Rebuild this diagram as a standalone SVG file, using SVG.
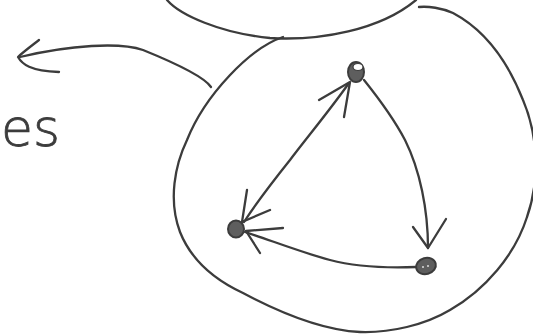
<svg xmlns="http://www.w3.org/2000/svg" width="533" height="335" viewBox="0 0 533 335">
<style>
.s{fill:none;stroke:#3c3c3c;stroke-width:2.3;stroke-linecap:round;stroke-linejoin:round}
.n{fill:#5e5e5e;stroke:#3c3c3c;stroke-width:2}
.t{font-family:"DejaVu Sans","Liberation Sans",sans-serif;font-weight:200;font-size:52px;fill:#3c3c3c;stroke:#3c3c3c;stroke-width:0.8}
</style>
<rect width="533" height="335" fill="#fff"/>
<g id="shapes">
<path class="s" d="M167,0 C180,15 220,33 270,38 C320,41 380,30 416,0"/>
<path class="s" d="M283,37 C250,48 205,95 187,140 C175,165 168,200 180,232 C192,262 215,280 243,293 C275,310 320,330 360,332 C390,333 425,325 450,310 C485,290 515,255 527,217 C540,180 538,135 523,100 C508,62 485,30 453,13 C442,8 428,6 419,7"/>
</g>
<g id="label">
<text class="t" x="1" y="146">es</text>
</g>
<g id="connectors">
<path class="s" d="M211,87 C205,78 180,65 143,50 C120,42 70,45 20,57"/>
<path class="s" d="M39,40 C30,47 22,53 18,57 C22,64 30,71 59,72"/>
<path class="s" d="M349,83 C330,110 305,140 290,160 C270,185 255,205 244,222"/>
<path class="s" d="M319,100 L350,82 L344,117"/>
<path class="s" d="M247,190 L242,222 L270,210"/>
<path class="s" d="M364,80 C380,100 393,117 405,140 C420,170 428,210 428,248"/>
<path class="s" d="M413,227 L428,248 L446,219"/>
<path class="s" d="M416,267 C390,268 360,268 330,260 C300,252 270,240 245,232"/>
<path class="s" d="M283,228 L246,231 L260,253"/>
</g>
<g id="node-top">
<ellipse class="n" cx="356" cy="72" rx="8" ry="10"/>
<ellipse cx="358" cy="67" rx="5" ry="3.5" fill="#fff" stroke="#3c3c3c" stroke-width="1.2"/>
</g>
<g id="node-left">
<ellipse class="n" cx="236" cy="229" rx="8" ry="8.5"/>
</g>
<g id="node-right">
<ellipse class="n" cx="426" cy="266" rx="10" ry="8" transform="rotate(-15 426 266)"/>
<circle cx="423" cy="267" r="1" fill="#ddd"/>
<circle cx="428" cy="266" r="1" fill="#ddd"/>
</g>
</svg>
